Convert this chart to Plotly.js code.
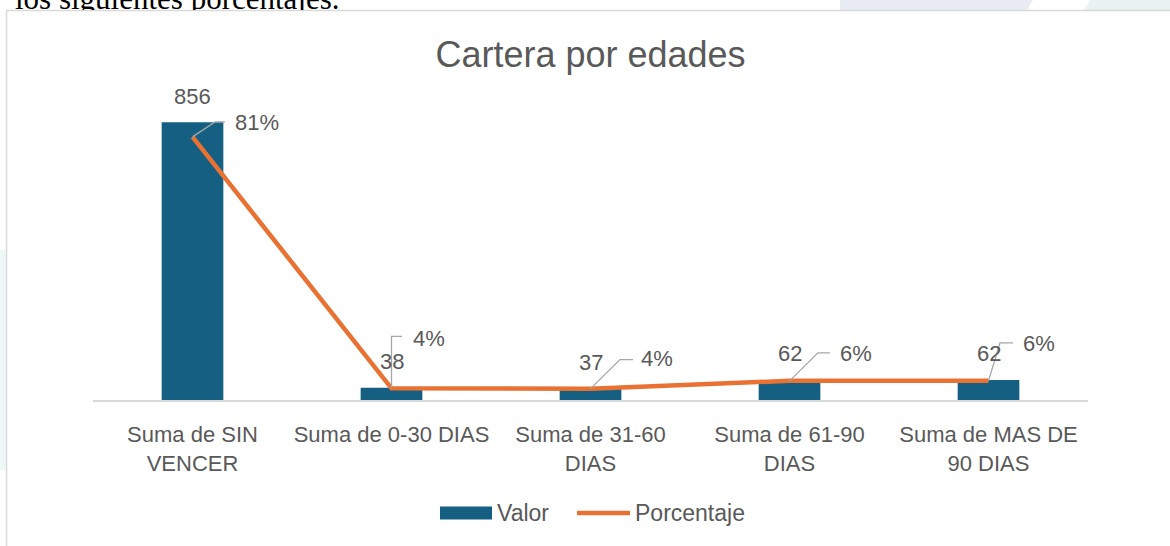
<!DOCTYPE html>
<html>
<head>
<meta charset="utf-8">
<script src="https://cdn.plot.ly/plotly-3.0.1.min.js"></script>
<style>
  html, body { margin: 0; padding: 0; background: #ffffff; }
  #wrap { position: relative; width: 1170px; height: 546px; overflow: hidden; }
  #chart { position: absolute; left: 0; top: 0; width: 1170px; height: 546px; }
  #above { position: absolute; left: 0; top: 0; width: 1170px; height: 10px; overflow: hidden; z-index: 5; pointer-events: none; }
  #above span { position: absolute; left: 15px; top: -17px; font-family: "Liberation Serif", "DejaVu Serif", serif; font-size: 31px; line-height: 31px; color: #000; white-space: nowrap; }
</style>
</head>
<body>
<div id="wrap">
  <div id="chart"></div>
  <div id="above"><span>los siguientes porcentajes.</span></div>
</div>
<script>
// ---- data ----
const categories = ["Suma de SIN<br>VENCER", "Suma de 0-30 DIAS", "Suma de 31-60<br>DIAS", "Suma de 61-90<br>DIAS", "Suma de MAS DE<br>90 DIAS"];
const valor = [856, 38, 37, 62, 62];
const porcentaje = [0.811, 0.036, 0.035, 0.059, 0.059];
const chartTitle = "Cartera por edades";
const seriesNames = ["Valor", "Porcentaje"];

// ---- label placement (style, pixels; up = positive) ----
const leaderElbow = [[22.5, 15, 32.5], [0, 52, 10.5], [29.5, 29, 42.5], [28.5, 28, 40.5], [11.5, 38, 24.5]];
const pctLabelShift = [[40, 14.5], [19, 49.5], [48, 30], [48, 27.5], [32, 37.5]];

const W = 1170, H = 546, L = 93, R = 82, T = 108, B = 146;
const xp = px => (px - L) / (W - L - R);
const yp = py => (H - B - py) / (H - T - B);

const FONT = "Liberation Sans, Arial, sans-serif";
const TXT = "#595959";
const BAR_COLOR = "#156082";
const LINE_COLOR = "#E97132";

const traces = [
  {
    type: "bar", name: seriesNames[0], x: categories, y: valor,
    marker: { color: BAR_COLOR }, width: 0.31, hoverinfo: "skip", showlegend: false
  },
  {
    type: "scatter", mode: "lines", name: seriesNames[1], x: categories, y: porcentaje,
    yaxis: "y2", line: { color: LINE_COLOR, width: 4.5 }, hoverinfo: "skip", showlegend: false
  }
];

const annotations = [];
const shapes = [];

// decorative page background outside the chart frame
shapes.push({ type: "rect", xref: "paper", yref: "paper", x0: xp(0), x1: xp(5.5), y0: yp(250), y1: yp(470), fillcolor: "#EEF6F6", line: { width: 0 }, layer: "below" });
shapes.push({ type: "path", xref: "paper", yref: "paper",
  path: `M${xp(840)},${yp(0)} L${xp(1033)},${yp(0)} L${xp(1027)},${yp(10)} L${xp(840)},${yp(10)} Z`,
  fillcolor: "#E9EDF3", line: { width: 0 }, layer: "below" });
shapes.push({ type: "path", xref: "paper", yref: "paper",
  path: `M${xp(1090)},${yp(0)} L${xp(1170)},${yp(0)} L${xp(1170)},${yp(10)} L${xp(1084)},${yp(10)} Z`,
  fillcolor: "#E9F3F1", line: { width: 0 }, layer: "below" });
// chart frame
shapes.push({ type: "line", xref: "paper", yref: "paper", x0: xp(6), x1: xp(1180), y0: yp(10.5), y1: yp(10.5), line: { color: "#D9D9D9", width: 1.5 } });
shapes.push({ type: "line", xref: "paper", yref: "paper", x0: xp(6.5), x1: xp(6.5), y0: yp(10), y1: yp(560), line: { color: "#D9D9D9", width: 1.5 } });

for (let i = 0; i < categories.length; i++) {
  // bar value labels
  annotations.push({
    x: i, y: valor[i], xref: "x", yref: "y", text: String(valor[i]),
    showarrow: false, xanchor: "center", yanchor: "middle", yshift: 26,
    font: { family: FONT, size: 22, color: TXT }
  });
  // percentage labels
  annotations.push({
    x: i, y: porcentaje[i], xref: "x", yref: "y2", text: Math.round(porcentaje[i] * 100) + "%",
    showarrow: false, xanchor: "left", yanchor: "middle",
    xshift: pctLabelShift[i][0], yshift: pctLabelShift[i][1],
    font: { family: FONT, size: 22, color: TXT }
  });
  const e = leaderElbow[i];
  shapes.push({
    type: "path", xref: "x", yref: "y2", xsizemode: "pixel", ysizemode: "pixel",
    xanchor: i, yanchor: porcentaje[i],
    path: `M0,0 L${e[0]},${e[1]} L${e[2]},${e[1]}`,
    line: { color: "#A6A6A6", width: 1.3 }, layer: "above"
  });
}

// legend (drawn to match the reference's wide swatches)
const LEG_Y = 513;
shapes.push({ type: "rect", xref: "paper", yref: "paper", x0: xp(440), x1: xp(492), y0: yp(LEG_Y - 6.5), y1: yp(LEG_Y + 6.5),
  fillcolor: BAR_COLOR, line: { width: 0 } });
shapes.push({ type: "line", xref: "paper", yref: "paper", x0: xp(577), x1: xp(630), y0: yp(LEG_Y), y1: yp(LEG_Y),
  line: { color: LINE_COLOR, width: 4.5 } });
annotations.push({ xref: "paper", yref: "paper", x: xp(495), y: yp(LEG_Y), xanchor: "left", yanchor: "middle",
  text: seriesNames[0], showarrow: false, font: { family: FONT, size: 23, color: TXT } });
annotations.push({ xref: "paper", yref: "paper", x: xp(633), y: yp(LEG_Y), xanchor: "left", yanchor: "middle",
  text: seriesNames[1], showarrow: false, font: { family: FONT, size: 23, color: TXT } });

const layout = {
  width: W, height: H,
  margin: { l: L, r: R, t: T, b: B, pad: 0 },
  paper_bgcolor: "#ffffff", plot_bgcolor: "rgba(0,0,0,0)",
  font: { family: FONT, color: TXT },
  title: {
    text: chartTitle, font: { family: FONT, size: 36, color: TXT },
    x: 0.5, xref: "paper", xanchor: "center", y: (H - 54) / H, yref: "container", yanchor: "middle"
  },
  showlegend: false,
  xaxis: {
    type: "category", range: [-0.5, 4.5], showline: true, linecolor: "#D9D9D9", linewidth: 1.5,
    ticks: "", showgrid: false, zeroline: false,
    tickfont: { family: FONT, size: 22, color: TXT }, ticklabelstandoff: 14, fixedrange: true
  },
  yaxis: { range: [0, 900], visible: false, showgrid: false, zeroline: false, fixedrange: true },
  yaxis2: { range: [0, 0.9], overlaying: "y", side: "right", visible: false, showgrid: false, zeroline: false, fixedrange: true },
  annotations: annotations,
  shapes: shapes
};

Plotly.newPlot("chart", traces, layout, { displayModeBar: false, staticPlot: true });
</script>
</body>
</html>
